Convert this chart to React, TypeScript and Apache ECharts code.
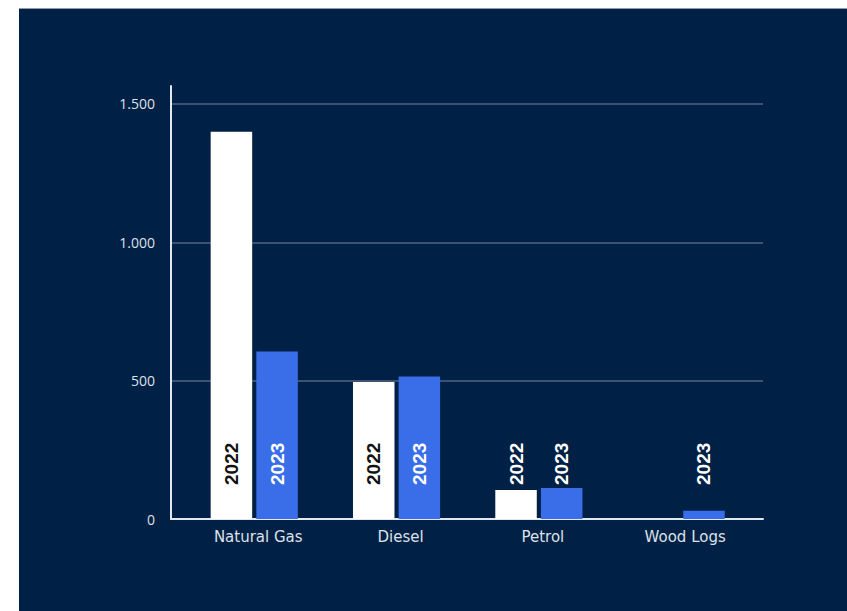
import React, { useEffect, useRef } from "react";
import * as echarts from "echarts";

// Fuel consumption by type, 2022 vs 2023
const categories = ["Natural Gas", "Diesel", "Petrol", "Wood Logs"];
const values2022: (number | null)[] = [1400, 495, 105, null];
const values2023: (number | null)[] = [605, 515, 112, 30];
const yTicks = [0, 500, 1000, 1500];

const NAVY = "#002045";
const BLUE = "#3a6ee8";

const fmtThousands = (v: number) =>
  String(v).replace(/\B(?=(\d{3})+(?!\d))/g, ".");

// Labels sit at a fixed height; short bars leave them over the background,
// so they switch to white there.
const toItems = (vals: (number | null)[], insideColor: string) =>
  vals.map((v, i) => ({
    value: [i, v],
    label: { color: v != null && v > 300 ? insideColor : "#ffffff" },
  }));

export default function App() {
  const ref = useRef<HTMLDivElement>(null);

  useEffect(() => {
    if (!ref.current) return;
    const chart = echarts.init(ref.current, undefined, { renderer: "svg" });

    const barLabel = {
      show: true,
      position: "insideBottom",
      distance: 34,
      rotate: 90,
      align: "left",
      verticalAlign: "middle",
      formatter: (p: any) => p.seriesName,
      fontFamily: "Liberation Sans, Arial, sans-serif",
      fontWeight: "bold",
      fontSize: 19,
    };

    chart.setOption({
      animation: false,
      backgroundColor: NAVY,
      grid: { left: 152, right: 84, top: 77, bottom: 92 },
      xAxis: {
        type: "value",
        min: -0.585,
        max: 3.575,
        splitLine: { show: false },
        axisTick: { show: false },
        axisLine: { show: true, onZero: false, lineStyle: { color: "#e3e7ee", width: 2 } },
        axisLabel: {
          customValues: [0, 1, 2, 3],
          formatter: (v: number) => categories[Math.round(v)] ?? "",
          color: "#dde1e8",
          fontFamily: "DejaVu Sans, sans-serif",
          fontSize: 15,
          margin: 10,
          padding: [0, 0, 0, 8],
        },
      },
      yAxis: {
        type: "value",
        min: 0,
        max: 1565,
        interval: 500,
        axisLine: { show: true, onZero: false, lineStyle: { color: "#e3e7ee", width: 2 } },
        axisTick: { show: false },
        axisLabel: {
          customValues: yTicks,
          formatter: (v: number) => fmtThousands(v),
          color: "#dde1e8",
          fontFamily: "Open Sans, sans-serif",
          fontSize: 14,
          margin: 16,
        },
        splitLine: {
          show: true,
          showMinLine: false,
          showMaxLine: false,
          lineStyle: { color: "#3f5170", width: 2 },
        },
      },
      series: [
        {
          name: "2022",
          type: "bar",
          data: toItems(values2022, "#111111"),
          barWidth: 41.5,
          barGap: "10%",
          itemStyle: { color: "#ffffff" },
          label: barLabel,
        },
        {
          name: "2023",
          type: "bar",
          data: toItems(values2023, "#ffffff"),
          barWidth: 41.5,
          barGap: "10%",
          itemStyle: { color: BLUE },
          label: barLabel,
        },
      ],
    });

    return () => chart.dispose();
  }, []);

  return (
    <div
      style={{
        position: "fixed",
        left: 19,
        top: 8,
        width: 828,
        height: 603,
        background: NAVY,
        borderTop: "1px solid #8e9bb0",
        boxSizing: "border-box",
      }}
    >
      <div ref={ref} style={{ width: 828, height: 602 }} />
    </div>
  );
}
